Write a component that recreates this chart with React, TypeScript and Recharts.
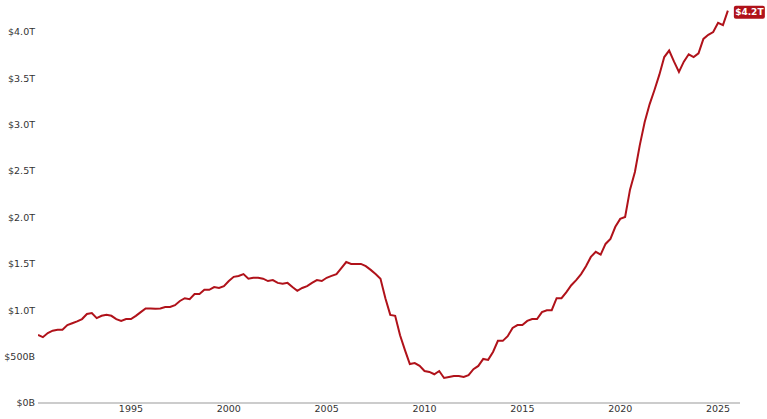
import { LineChart, Line, XAxis, YAxis } from "recharts";

// quarterly, starting 1990 Q2
const START_YEAR = 1990.25;

const balanceB = [
  733, 710, 755, 780, 790, 790, 840, 860, 880, 905,
  960, 970, 915, 940, 950, 940, 905, 885, 905, 905,
  940, 980, 1020, 1020, 1015, 1020, 1035, 1035, 1055, 1100,
  1130, 1120, 1175, 1175, 1220, 1220, 1250, 1240, 1260, 1315,
  1360, 1370, 1390, 1340, 1350, 1350, 1340, 1315, 1325, 1295,
  1285, 1295, 1250, 1210, 1240, 1260, 1295, 1325, 1315, 1350,
  1370, 1390, 1455, 1520, 1500, 1500, 1500, 1475, 1435, 1390,
  1340, 1130, 950, 940, 730, 570, 420, 430, 400, 345,
  335, 310, 345, 270, 280, 290, 290, 280, 300, 365,
  400, 475, 465, 550, 670, 670, 720, 810, 840, 840,
  885, 905, 905, 980, 1000, 1000, 1130, 1130, 1195, 1270,
  1325, 1390, 1475, 1575, 1630, 1600, 1715, 1770, 1900, 1985,
  2005, 2300, 2490, 2780, 3030, 3220, 3375, 3540, 3730, 3800,
  3680, 3570, 3680, 3760, 3730, 3770, 3925, 3970, 4000, 4100,
  4075, 4230,
];

const yearTicks = [1995, 2000, 2005, 2010, 2015, 2020, 2025];
const valueTicks = [0, 500, 1000, 1500, 2000, 2500, 3000, 3500, 4000];
const lastLabel = "$4.2T";

const data = balanceB.map((v, i) => ({ year: START_YEAR + i * 0.25, value: v }));

const RED = "#b0121a";
const TEXT = "#333";

function fmtValue(v: number) {
  if (v < 1000) return `$${v}B`;
  return `$${(v / 1000).toFixed(1)}T`;
}

function EndLabel(props: any) {
  const { x, y, index } = props;
  if (index !== data.length - 1) return null;
  return (
    <g>
      <rect x={x + 6} y={y - 5} width={31} height={13} rx={2} fill={RED} />
      <text
        x={x + 21.5}
        y={y + 1.5}
        fill="#fff"
        fontSize={9}
        fontWeight="bold"
        fontFamily="DejaVu Sans"
        textAnchor="middle"
        dominantBaseline="central"
      >
        {lastLabel}
      </text>
    </g>
  );
}

export default function App() {
  return (
    <div style={{ position: "absolute", left: 0, top: 0, background: "#fff" }}>
      <LineChart
        width={767}
        height={419}
        data={data}
        margin={{ top: 0, right: 27, bottom: 0, left: 0 }}
        style={{ fontFamily: "DejaVu Sans" }}
      >
        <XAxis
          dataKey="year"
          type="number"
          domain={[1990.25, 2026.12]}
          ticks={yearTicks}
          tickLine={false}
          tickSize={0}
          tickMargin={2}
          height={16}
          axisLine={{ stroke: "#999", strokeWidth: 1 }}
          tick={{ fill: TEXT, fontSize: 9.5 }}
          allowDataOverflow
        />
        <YAxis
          type="number"
          domain={[0, 4345]}
          ticks={valueTicks}
          tickFormatter={fmtValue}
          width={38}
          axisLine={false}
          tickLine={false}
          tickSize={0}
          tickMargin={3}
          tick={{ fill: TEXT, fontSize: 9.5 }}
          allowDataOverflow
        />
        <Line
          type="linear"
          dataKey="value"
          stroke={RED}
          strokeWidth={2}
          dot={false}
          isAnimationActive={false}
          label={<EndLabel />}
        />
      </LineChart>
    </div>
  );
}
